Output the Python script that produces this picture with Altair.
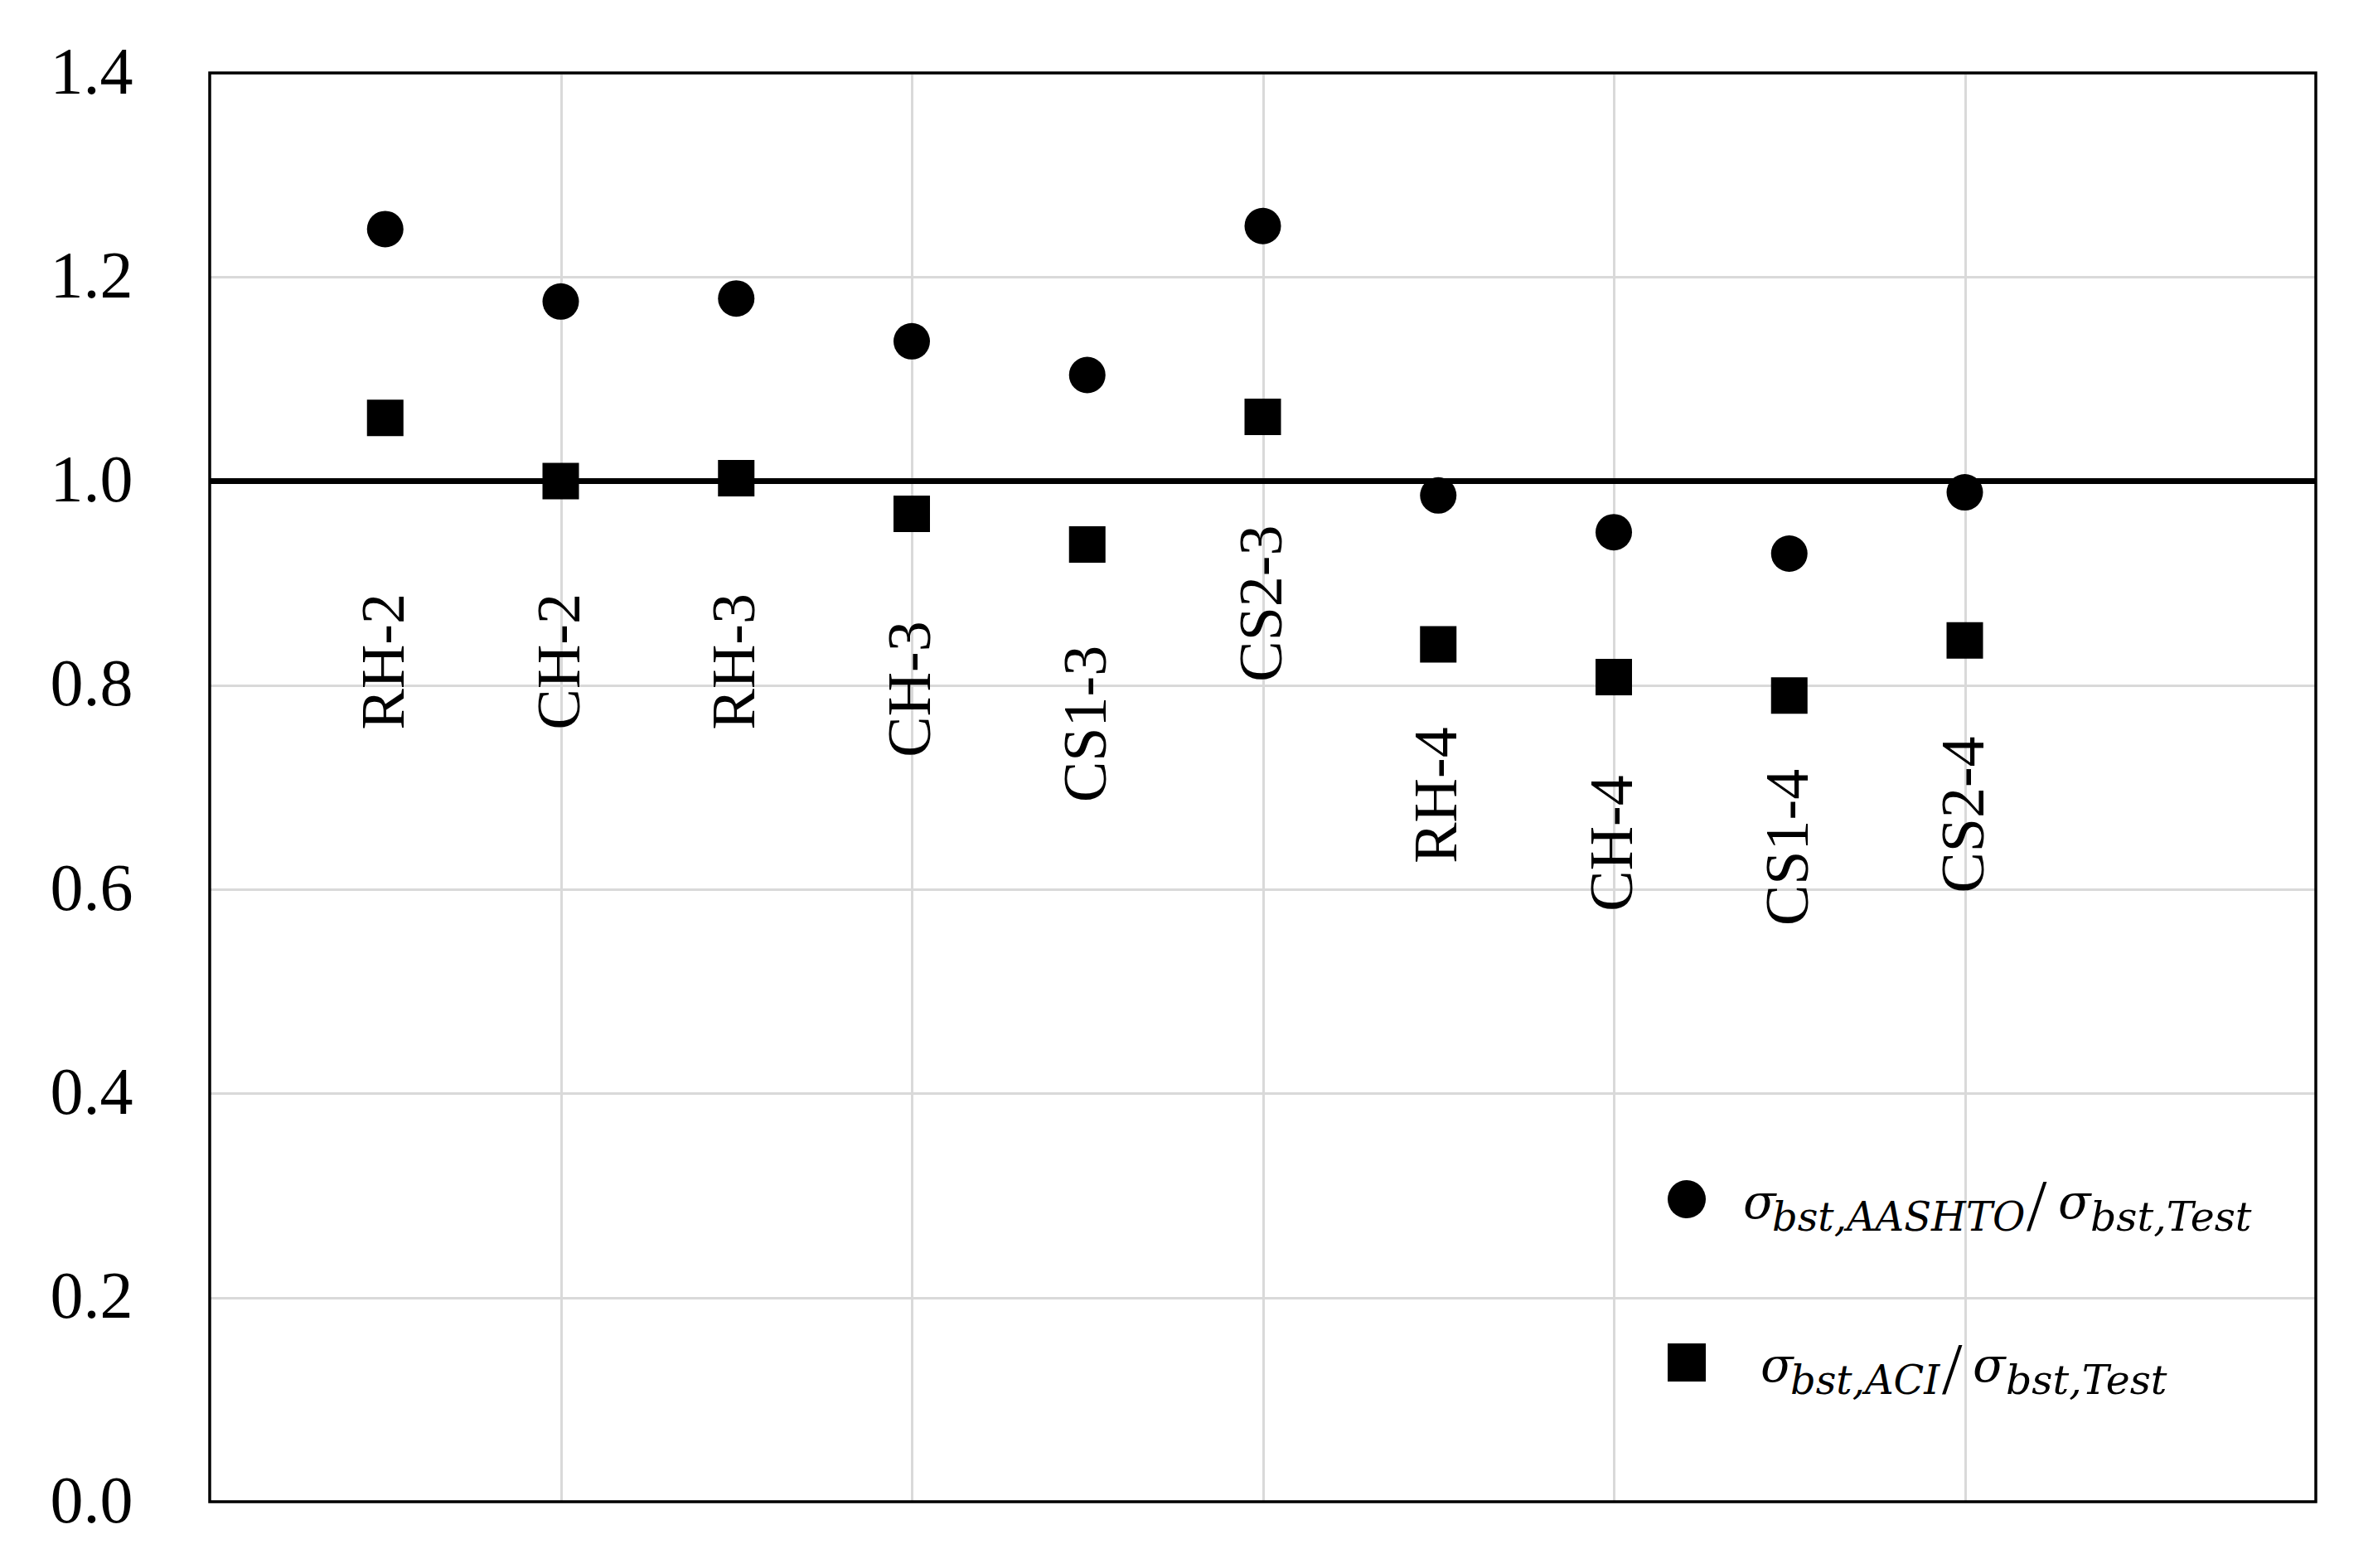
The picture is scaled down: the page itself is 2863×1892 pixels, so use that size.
import altair as alt
import pandas as pd

# ---------------- data ----------------
specimens = ["RH-2", "CH-2", "RH-3", "CH-3", "CS1-3", "CS2-3", "RH-4", "CH-4", "CS1-4", "CS2-4"]
positions = [1, 2, 3, 4, 5, 6, 7, 8, 9, 10]
ratio_aashto = [1.247, 1.176, 1.179, 1.137, 1.104, 1.250, 0.986, 0.950, 0.929, 0.989]
ratio_aci = [1.062, 1.000, 1.003, 0.968, 0.938, 1.063, 0.840, 0.808, 0.790, 0.844]
label_top = [0.890, 0.890, 0.890, 0.863, 0.839, 0.957, 0.759, 0.712, 0.718, 0.750]
y_ticks = [0.0, 0.2, 0.4, 0.6, 0.8, 1.0, 1.2, 1.4]
x_grid = [2, 4, 6, 8, 10]
reference_ratio = 1.0

df = pd.DataFrame({
    "specimen": specimens,
    "pos": positions,
    "aashto": ratio_aashto,
    "aci": ratio_aci,
    "label_top": label_top,
})

W, H = 2541, 1724
xscale = alt.Scale(domain=[0, 12], nice=False, zero=False)
yscale = alt.Scale(domain=[0, 1.4], nice=False, zero=True)

x_axis = alt.Axis(values=x_grid, labels=False, ticks=False, domain=False, title=None, grid=True)
y_axis = alt.Axis(values=y_ticks, format=".1f", ticks=False, tickSize=0, domain=False,
                  title=None, grid=True, labelPadding=93)

def X(f):
    return alt.X(f, scale=xscale, axis=x_axis, title=None)

def Y(f):
    return alt.Y(f, scale=yscale, axis=y_axis, title=None)

base = alt.Chart(df)

circles = base.mark_point(shape="circle", filled=True, size=1936, color="black", opacity=1).encode(
    x=X("pos:Q"), y=Y("aashto:Q"),
)

squares = base.mark_point(shape="square", filled=True, size=1936, color="black", opacity=1).encode(
    x=X("pos:Q"), y=Y("aci:Q"),
)

labels = base.mark_text(font="Liberation Serif", fontSize=74, angle=270, align="right",
                        baseline="middle", color="black").encode(
    x=X("pos:Q"), y=Y("label_top:Q"), text="specimen:N",
)

one_line = alt.Chart(alt.Data(values=[{"v": reference_ratio}])).mark_rule(
    color="black", strokeWidth=7).encode(
    y=Y("v:Q"),
)

frame = alt.Chart(alt.Data(values=[{"x0": 0, "x1": 12, "y0": 0, "y1": 1.4}])).mark_rect(
    fillOpacity=0, stroke="black", strokeWidth=3.5).encode(
    x=X("x0:Q"), x2="x1:Q", y=Y("y0:Q"), y2="y1:Q",
)

# ---------------- legend (custom, with subscripts) ----------------
def leg_text(txt, x, y, size, italic=True, font="DejaVu Serif"):
    props = dict(align="left", baseline="alphabetic", font=font,
                 fontSize=size, color="black")
    if italic:
        props["fontStyle"] = "italic"
    return alt.Chart(alt.Data(values=[{"k": 1}])).mark_text(**props).encode(
        x=alt.value(x), y=alt.value(y), text=alt.value(txt))

def leg_marker(shape, x, y):
    return alt.Chart(alt.Data(values=[{"k": 1}])).mark_point(
        shape=shape, filled=True, size=2116, color="black", opacity=1).encode(
        x=alt.value(x), y=alt.value(y))

legend_layers = [
    leg_marker("circle", 1782, 1359),
    leg_text("σ", 1850, 1382, 58),
    leg_text("bst,AASHTO", 1885, 1397, 48),
    leg_text("/", 2192, 1396, 88, italic=False, font="Liberation Serif"),
    leg_text("σ", 2230, 1382, 58),
    leg_text("bst,Test", 2269, 1397, 49),
    leg_marker("square", 1782, 1556),
    leg_text("σ", 1871, 1579, 58),
    leg_text("bst,ACI", 1907, 1594, 48),
    leg_text("/", 2090, 1593, 88, italic=False, font="Liberation Serif"),
    leg_text("σ", 2127, 1579, 58),
    leg_text("bst,Test", 2167, 1594, 49),
]

chart = alt.layer(
    circles, one_line, labels, squares, frame, *legend_layers
).properties(
    width=W, height=H,
    autosize=alt.AutoSizeParams(type="none"),
    padding={"left": 245, "top": 80, "right": 40, "bottom": 40},
    background="white",
).configure_view(
    stroke=None
).configure_axis(
    labelFont="Liberation Serif", labelFontSize=80, labelColor="black",
    gridColor="#d9d9d9", gridWidth=3,
)

chart.save("out.html", embed_options={"renderer": "svg", "actions": False})
